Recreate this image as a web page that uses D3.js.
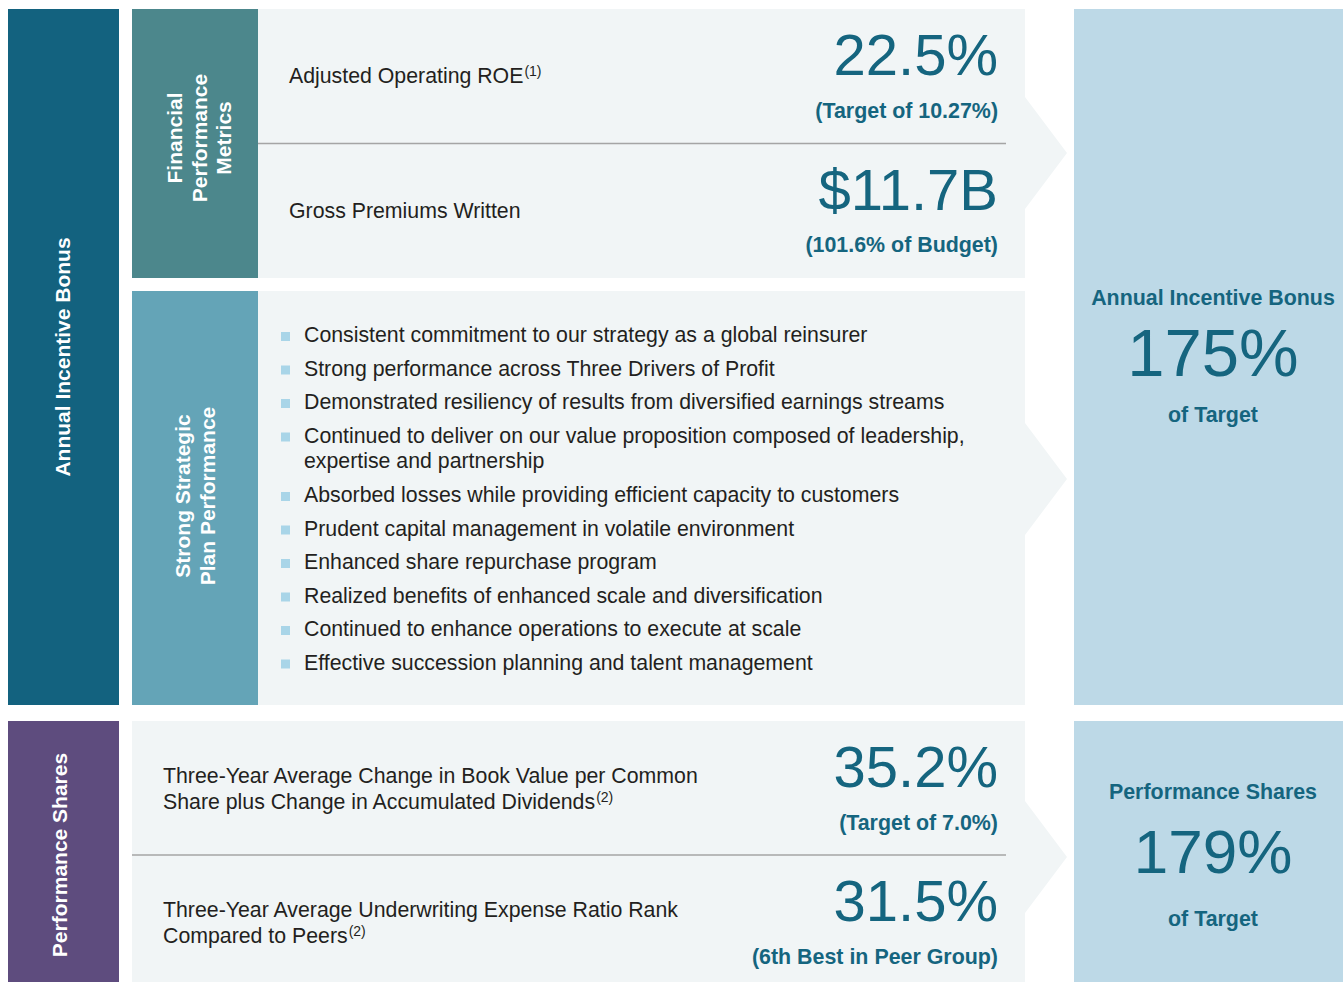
<!DOCTYPE html>
<html>
<head>
<meta charset="utf-8">
<script src="https://cdn.jsdelivr.net/npm/d3@7"></script>
<style>
body { margin: 0; background: #fff; }
svg text { font-family: "Liberation Sans", Arial, Helvetica, sans-serif; }
</style>
</head>
<body>
<div id="chart"></div>
<script>
// Values
var financialMetrics = [["Adjusted Operating ROE"], ["Gross Premiums Written"]];
var financialNotes = ["(1)", ""];
var financialValues = ["22.5%", "$11.7B"];
var financialResults = ["(Target of 10.27%)", "(101.6% of Budget)"];

var strategicPoints = [
    ["Consistent commitment to our strategy as a global reinsurer"],
    ["Strong performance across Three Drivers of Profit"],
    ["Demonstrated resiliency of results from diversified earnings streams"],
    ["Continued to deliver on our value proposition composed of leadership,", "expertise and partnership"],
    ["Absorbed losses while providing efficient capacity to customers"],
    ["Prudent capital management in volatile environment"],
    ["Enhanced share repurchase program"],
    ["Realized benefits of enhanced scale and diversification"],
    ["Continued to enhance operations to execute at scale"],
    ["Effective succession planning and talent management"]
];

var shareMetrics = [
    ["Three-Year Average Change in Book Value per Common", "Share plus Change in Accumulated Dividends"],
    ["Three-Year Average Underwriting Expense Ratio Rank", "Compared to Peers"]
];
var shareNotes = ["(2)", "(2)"];
var shareValues = ["35.2%", "31.5%"];
var shareResults = ["(Target of 7.0%)", "(6th Best in Peer Group)"];

var sideLabels = ["Annual Incentive Bonus", "Performance Shares"];
var groupLabels = [["Financial", "Performance", "Metrics"], ["Strong Strategic", "Plan Performance"]];
var payoutTitles = ["Annual Incentive Bonus", "Performance Shares"];
var payoutValues = ["175%", "179%"];
var payoutNotes = ["of Target", "of Target"];

// colours
var darkTeal = '#13627f', purple = '#5e4c7e', fpmColor = '#4c878c', spColor = '#64a4b7';
var panelColor = '#f1f5f6', payoutColor = '#bdd9e7', numColor = '#15657f', textColor = '#231f20';

var width = 1343, height = 982;
var svg = d3.select('#chart').append('svg')
    .attr('width', width)
    .attr('height', height);

// light panel with an arrow on its right side
function panel(x0, y0, x1, y1, tipY) {
    var p = d3.path();
    p.moveTo(x0, y0);
    p.lineTo(x1, y0);
    p.lineTo(x1, tipY - 56);
    p.lineTo(x1 + 42, tipY);
    p.lineTo(x1, tipY + 56);
    p.lineTo(x1, y1);
    p.lineTo(x0, y1);
    p.closePath();
    svg.append('path').attr('d', p.toString()).attr('fill', panelColor);
}

panel(258, 9, 1025, 278, 153);
panel(258, 291, 1025, 705, 479);
panel(132, 721, 1025, 982, 857);

// coloured label boxes
svg.append('rect').attr('x', 8).attr('y', 9).attr('width', 111).attr('height', 696).attr('fill', darkTeal);
svg.append('rect').attr('x', 8).attr('y', 721).attr('width', 111).attr('height', 261).attr('fill', purple);
svg.append('rect').attr('x', 132).attr('y', 9).attr('width', 126).attr('height', 269).attr('fill', fpmColor);
svg.append('rect').attr('x', 132).attr('y', 291).attr('width', 126).attr('height', 414).attr('fill', spColor);

// payout boxes
svg.append('rect').attr('x', 1074).attr('y', 9).attr('width', 280).attr('height', 696).attr('fill', payoutColor);
svg.append('rect').attr('x', 1074).attr('y', 721).attr('width', 280).attr('height', 261).attr('fill', payoutColor);

// rotated labels
function vertical(lines, x, y, lineGap) {
    var t = svg.append('text')
        .attr('transform', 'translate(' + x + ',' + y + ') rotate(-90)')
        .attr('text-anchor', 'middle')
        .attr('fill', '#fff')
        .style('font-size', '21px')
        .style('font-weight', 'bold');
    lines.forEach(function(l, i) {
        t.append('tspan').attr('x', 0).attr('y', i * lineGap).text(l);
    });
}
vertical([sideLabels[0]], 70, 357, 0);
vertical([sideLabels[1]], 67, 855, 0);
vertical(groupLabels[0], 182, 138, 24.5);
vertical(groupLabels[1], 190, 496, 25);

// metric rows
function metricRows(labels, notes, values, results, x0, y0, y1, labelX, labelY) {
    var y = d3.scaleBand().domain(d3.range(labels.length)).range([y0, y1]);
    var g = svg.append('g');

    g.selectAll('line.divider')
        .data(d3.range(1, labels.length))
        .join('line')
        .attr('x1', x0).attr('x2', 1006)
        .attr('y1', d => y(d)).attr('y2', d => y(d))
        .attr('stroke', '#a5a5a5')
        .attr('stroke-width', 1.5);

    labels.forEach(function(lines, i) {
        var t = g.append('text')
            .attr('fill', textColor)
            .style('font-size', '21.3px');
        lines.forEach(function(l, j) {
            t.append('tspan').attr('x', labelX).attr('y', y(i) + labelY + j * 26).text(l);
        });
        if (notes[i]) {
            t.append('tspan').attr('dy', -7).attr('dx', 1).style('font-size', '14px').text(notes[i]);
        }
    });

    g.selectAll('text.value')
        .data(values)
        .join('text')
        .attr('class', 'value')
        .attr('x', 998)
        .attr('y', (d, i) => y(i) + 66)
        .attr('text-anchor', 'end')
        .attr('fill', numColor)
        .style('font-size', '58px')
        .text(d => d);

    g.selectAll('text.result')
        .data(results)
        .join('text')
        .attr('class', 'result')
        .attr('x', 998)
        .attr('y', (d, i) => y(i) + 108.5)
        .attr('text-anchor', 'end')
        .attr('fill', numColor)
        .style('font-size', '21.4px')
        .style('font-weight', 'bold')
        .text(d => d);
}

metricRows(financialMetrics, financialNotes, financialValues, financialResults, 258, 9, 278, 289, 74);
metricRows(shareMetrics, shareNotes, shareValues, shareResults, 132, 721, 989, 163, 62);

// strategic bullet list
var wraps = strategicPoints.map((d, i) => d3.sum(strategicPoints.slice(0, i), p => p.length - 1));
var bulletY = d3.scaleLinear().domain([0, strategicPoints.length - 1]).range([342, 342 + 9 * 33.5]);

var items = svg.append('g').selectAll('g')
    .data(strategicPoints)
    .join('g')
    .attr('transform', (d, i) => 'translate(0,' + (bulletY(i) + wraps[i] * 26) + ')');

items.append('rect')
    .attr('x', 281).attr('y', -10)
    .attr('width', 9).attr('height', 9)
    .attr('fill', '#a9d5e8');

items.append('text')
    .attr('fill', textColor)
    .style('font-size', '21.3px')
    .selectAll('tspan')
    .data(d => d)
    .join('tspan')
    .attr('x', 304)
    .attr('y', (d, j) => j * 25)
    .text(d => d);

// payout boxes text
var payoutCenters = [357, 851.5];
var payoutOffsets = [[-52, 19, 65, 67], [-52.5, 21.5, 74.5, 62]];
payoutTitles.forEach(function(title, i) {
    var cy = payoutCenters[i], off = payoutOffsets[i];
    var g = svg.append('g').attr('text-anchor', 'middle').attr('fill', numColor);
    g.append('text').attr('x', 1213).attr('y', cy + off[0])
        .style('font-size', '21.4px').style('font-weight', 'bold').text(title);
    g.append('text').attr('x', 1213).attr('y', cy + off[1])
        .style('font-size', off[3] + 'px').text(payoutValues[i]);
    g.append('text').attr('x', 1213).attr('y', cy + off[2])
        .style('font-size', '21.4px').style('font-weight', 'bold').text(payoutNotes[i]);
});
</script>
</body>
</html>
